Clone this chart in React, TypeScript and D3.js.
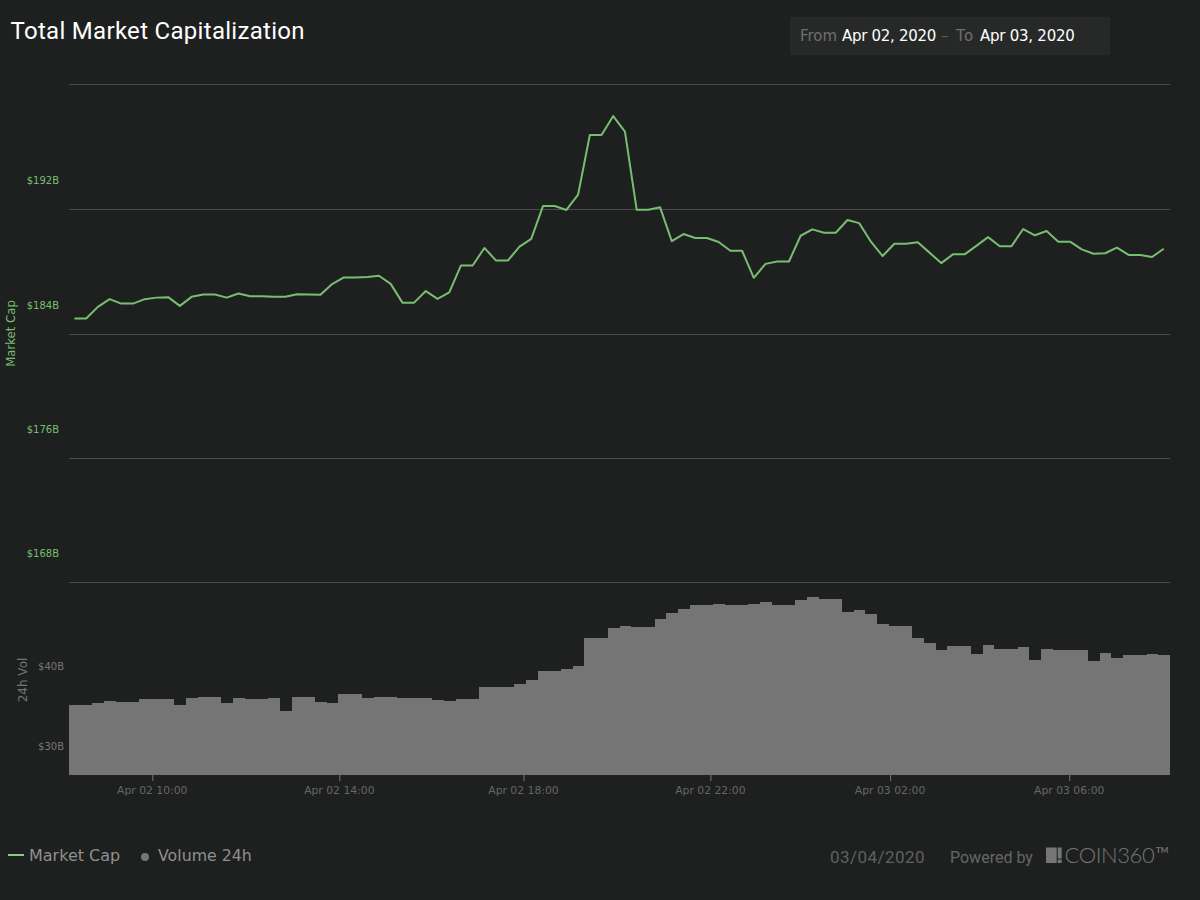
import { useEffect, useRef } from 'react';
import * as d3 from 'd3';

// one value per 15 min bucket ($B)
const marketCap = [
  185.02, 185.02, 185.77, 186.26, 185.98, 185.98, 186.26, 186.36, 186.39, 185.83,
  186.41, 186.56, 186.56, 186.36, 186.62, 186.45, 186.45, 186.41, 186.41, 186.58,
  186.56, 186.54, 187.23, 187.65, 187.65, 187.68, 187.76, 187.24, 186.04, 186.04,
  186.78, 186.28, 186.69, 188.42, 188.42, 189.54, 188.73, 188.73, 189.62, 190.12,
  192.22, 192.22, 191.97, 192.95, 196.77, 196.77, 197.98, 196.98, 191.99, 191.99,
  192.14, 189.97, 190.43, 190.18, 190.18, 189.92, 189.36, 189.36, 187.63, 188.52,
  188.67, 188.67, 190.32, 190.73, 190.51, 190.51, 191.33, 191.13, 189.94, 189.02,
  189.81, 189.81, 189.9, 189.24, 188.57, 189.13, 189.13, 189.67, 190.23, 189.65,
  189.65, 190.75, 190.35, 190.62, 189.94, 189.94, 189.45, 189.17, 189.2, 189.56,
  189.09, 189.09, 188.96, 189.49,
];

const volume24h = [
  38.75, 38.75, 39.0, 39.25, 39.13, 39.13, 39.5, 39.5, 39.5, 38.75,
  39.63, 39.75, 39.75, 39.0, 39.63, 39.5, 39.5, 39.63, 38.0, 39.75,
  39.75, 39.13, 39.0, 40.13, 40.13, 39.63, 39.75, 39.75, 39.63, 39.63,
  39.63, 39.38, 39.25, 39.5, 39.5, 41.0, 41.0, 41.0, 41.38, 41.88,
  43.0, 43.0, 43.25, 43.63, 47.13, 47.13, 48.38, 48.63, 48.5, 48.5,
  49.5, 50.25, 50.75, 51.25, 51.25, 51.38, 51.25, 51.25, 51.38, 51.63,
  51.25, 51.25, 51.88, 52.25, 52.0, 52.0, 50.38, 50.63, 50.13, 48.88,
  48.63, 48.63, 47.13, 46.5, 45.63, 46.13, 46.13, 45.13, 46.25, 45.75,
  45.75, 46.0, 44.38, 45.75, 45.63, 45.63, 45.63, 44.25, 45.25, 44.63,
  45.0, 45.0, 45.13, 45.0,
];

const marketTicks = [168, 176, 184, 192, 200];
const volumeTicks = [30, 40];
// samples are not evenly spaced in time, so the ticks sit at fractional bucket positions
const timeTickPositions = [7.11, 23.08, 38.8, 54.76, 70.1, 85.4];
const timeTickLabels = [
  'Apr 02 10:00',
  'Apr 02 14:00',
  'Apr 02 18:00',
  'Apr 02 22:00',
  'Apr 03 02:00',
  'Apr 03 06:00',
];

const BG = '#1e2020';
const GREEN = '#78be70';
const GREY = '#757575';
const SANS = '"DejaVu Sans", sans-serif';

export default function App() {
  const chartRef = useRef<SVGGElement>(null);

  useEffect(() => {
    if (!chartRef.current) return;
    const chart = d3.select(chartRef.current);
    chart.selectAll('*').remove();

    const left = 69;
    const right = 1170;

    const x = d3
      .scaleBand<number>()
      .domain(d3.range(marketCap.length))
      .range([left, right]);
    const xPos = d3.scaleLinear().domain([0, marketCap.length]).range([left, right]);
    // grid lines in the source snap to whole pixels, hence one stop per tick
    const yMarket = d3.scaleLinear().domain(marketTicks).range([582.5, 458.5, 334.5, 209.5, 84.5]);
    const yVolume = d3.scaleLinear().domain([30, 54]).range([775, 583]);

    // Grid + market cap axis (labels float above their grid line)
    const marketAxis = chart
      .append('g')
      .attr('transform', `translate(${left},0)`)
      .call(
        d3
          .axisLeft(yMarket)
          .tickValues(marketTicks)
          .tickSize(-(right - left))
          .tickPadding(10)
          .tickFormat((d) => (+d === 200 ? '' : `$${d}B`))
      );
    marketAxis.select('.domain').remove();
    marketAxis.selectAll('.tick').attr('transform', (d) => `translate(0,${yMarket(d as number)})`);
    marketAxis.selectAll('line').attr('stroke', '#4b4d4c').attr('stroke-width', 1);
    marketAxis
      .selectAll('text')
      .attr('fill', GREEN)
      .attr('font-family', SANS)
      .attr('font-size', 10)
      .attr('dy', -26);

    // Volume bars, one stepped shape so neighbours do not show seams
    const stepped = [...volume24h, volume24h[volume24h.length - 1]];
    const volumeArea = d3
      .area<number>()
      .curve(d3.curveStepAfter)
      .x((_, i) => xPos(i))
      .y0(yVolume(30))
      .y1((d) => yVolume(d));
    chart
      .append('path')
      .datum(stepped)
      .attr('fill', GREY)
      .attr('shape-rendering', 'crispEdges')
      .attr('d', volumeArea);

    const volumeAxis = chart
      .append('g')
      .attr('transform', `translate(${left},0)`)
      .call(d3.axisLeft(yVolume).tickValues(volumeTicks).tickSize(0).tickPadding(5).tickFormat((d) => `$${d}B`));
    volumeAxis.select('.domain').remove();
    volumeAxis
      .selectAll('text')
      .attr('fill', GREY)
      .attr('font-family', SANS)
      .attr('font-size', 10)
      .attr('dy', -25.5);

    // Market cap line
    const line = d3
      .line<number>()
      .x((_, i) => (x(i) as number) + x.bandwidth() / 2 - 0.4)
      .y((d) => yMarket(d));
    chart
      .append('path')
      .datum(marketCap)
      .attr('fill', 'none')
      .attr('stroke', GREEN)
      .attr('stroke-width', 2)
      .attr('stroke-linejoin', 'round')
      .attr('d', line);

    // Time axis
    const timeAxis = chart
      .append('g')
      .attr('transform', 'translate(0,775)')
      .call(
        d3
          .axisBottom(xPos)
          .tickValues(timeTickPositions)
          .tickSize(6)
          .tickPadding(5)
          .tickFormat((_, i) => timeTickLabels[i])
      );
    timeAxis.select('.domain').remove();
    timeAxis.selectAll('line').attr('stroke', GREY);
    timeAxis
      .selectAll('text')
      .attr('fill', '#666')
      .attr('font-family', SANS)
      .attr('font-size', 10.8)
      .attr('dx', -0.5);
  }, []);

  return (
    <svg
      width={1200}
      height={900}
      style={{ position: 'absolute', left: 0, top: 0, background: BG }}
    >
      <text x={10.5} y={39} fill="#fff" fontFamily="Roboto" fontSize={24} letterSpacing={0.3}>
        Total Market Capitalization
      </text>

      <rect x={790} y={17} width={320} height={38} rx={1} fill="#272928" />
      <g fontFamily={SANS} fontSize={15}>
        <text x={800} y={41} fill="#6f6f6f">From</text>
        <text x={842} y={41} fill="#fff" letterSpacing={-0.3}>Apr 02, 2020</text>
        <text x={941} y={41} fill="#5a5a5a">–</text>
        <text x={956} y={41} fill="#6f6f6f" letterSpacing={1.5}>To</text>
        <text x={980} y={41} fill="#fff" letterSpacing={-0.25}>Apr 03, 2020</text>
      </g>

      <g ref={chartRef} />

      <text transform="translate(15,333.5) rotate(-90)" textAnchor="middle" fill={GREEN} fontFamily={SANS} fontSize={11.7}>
        Market Cap
      </text>
      <text transform="translate(27,680) rotate(-90)" textAnchor="middle" fill={GREY} fontFamily={SANS} fontSize={12}>
        24h Vol
      </text>

      <line x1={8} x2={24} y1={855} y2={855} stroke="#8cc985" strokeWidth={2} />
      <text x={29} y={861} fill="#8f8f8f" fontFamily={SANS} fontSize={16}>Market Cap</text>
      <circle cx={145} cy={857} r={4} fill={GREY} />
      <text x={158} y={861} fill="#8f8f8f" fontFamily={SANS} fontSize={15.8}>Volume 24h</text>

      <text x={830} y={863} fill="#5f6060" fontFamily="Roboto" fontSize={17} letterSpacing={0.45}>03/04/2020</text>
      <text x={950} y={863} fill="#666" fontFamily="Roboto" fontSize={16}>Powered by</text>
      <rect x={1046} y={847.5} width={10.7} height={15.5} fill="#757575" />
      <rect x={1057.7} y={847.5} width={4} height={11} fill="#757575" />
      <rect x={1057.7} y={859.5} width={4} height={3.5} fill="#757575" />
      <text x={1064.5} y={863} fill="#757575" fontFamily="Lato" fontWeight={300} fontSize={22} letterSpacing={-0.4}>COIN360</text>
      <text x={1156} y={852.5} fill="#757575" fontFamily="Lato" fontWeight={700} fontSize={8}>TM</text>
    </svg>
  );
}
